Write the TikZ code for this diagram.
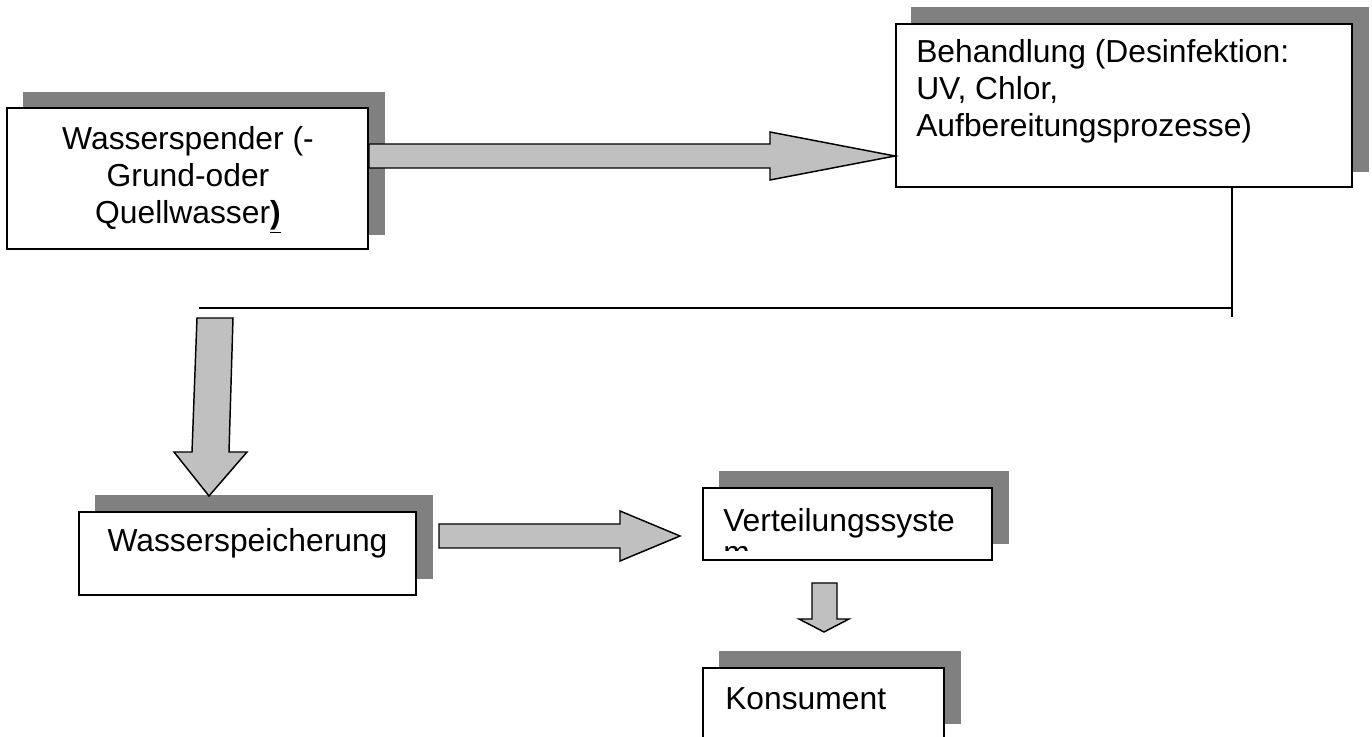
\documentclass[tikz,border=0pt]{standalone}
\usepackage{fontspec}
\setmainfont{Liberation Sans}
\usetikzlibrary{fit}
\definecolor{shadowc}{HTML}{808080}
\definecolor{arrowc}{HTML}{C0C0C0}
\tikzset{
  box/.style={draw=black, fill=white, line width=1.5pt, inner sep=0pt},
  shadowbox/.style={fill=shadowc},
  blockarrow/.style={draw=black, fill=arrowc, line width=1.1pt, line join=miter},
  link/.style={draw=black, line width=1.5pt},
  lbl/.style={inner sep=0pt, font=\fontsize{23.85}{27.5}\selectfont},
}
\begin{document}
\begin{tikzpicture}[x=0.75pt, y=-0.75pt]
\useasboundingbox (0,0) rectangle (1372,737);
\clip (0,0) rectangle (1372,737);
% shadows
\fill[shadowbox] (23,92) rectangle (385,235);
\fill[shadowbox] (911,7) rectangle (1369,172);
\fill[shadowbox] (95,495) rectangle (433,579);
\fill[shadowbox] (719,471) rectangle (1009,544);
\fill[shadowbox] (719,651) rectangle (961,724);
% connector lines
\coordinate (hl) at (199,308);
\coordinate (vb) at (1232,317);
% boxes
\node[box, fit={(7,108) (368,249)}] (b1) {};
\node[box, fit={(896,24) (1352,187)}] (b2) {};
\node[box, fit={(79,512) (416,595)}] (b3) {};
\node[box, fit={(703,488) (992,560)}] (b4) {};
\node[box, fit={(703,668) (944,770)}] (b5) {};
\draw[link] (b2.south -| vb) -- (vb);
\draw[link] (hl) -- (hl -| vb);
% texts
\node[lbl, anchor=base] (t1) at (188,150) {\begin{tabular}[t]{@{}c@{}}Wasserspender (-\\Grund-oder\\Quellwasser\textbf{\underline{)}}\end{tabular}};
\node[lbl, anchor=base west] (t2) at (916,63) {\begin{tabular}[t]{@{}l@{}}Behandlung (Desinfektion:\\UV, Chlor,\\Aufbereitungsprozesse)\end{tabular}};
\node[lbl, anchor=base] (t3) at (247.5,552) {Wasserspeicherung};
\begin{scope}
\clip (703,488) rectangle (992,551);
\node[lbl, anchor=base west] (t4) at (723,532) {\begin{tabular}[t]{@{}l@{}}Verteilungssyste\\[-4pt]m\end{tabular}};
\end{scope}
\node[lbl, anchor=base west] (t5) at (725,710) {Konsument};
% block arrows
\draw[blockarrow] (b1.east |- 0,144) -- (770,144) -- (770,132) -- (b2.west |- 0,156) -- (770,180) -- (770,168) -- (b1.east |- 0,168) -- cycle;
\draw[blockarrow] (197,318) -- (233,318) -- (229,452) -- (247,452) -- (209,496) -- (174,452) -- (192,452) -- cycle;
\draw[blockarrow] (439,524) -- (620,524) -- (620,511) -- (680,536) -- (620,561) -- (620,548) -- (439,548) -- cycle;
\draw[blockarrow] (812,583) -- (837,583) -- (837,619) -- (849,619) -- (824,632) -- (799,619) -- (812,619) -- cycle;
\end{tikzpicture}
\end{document}
